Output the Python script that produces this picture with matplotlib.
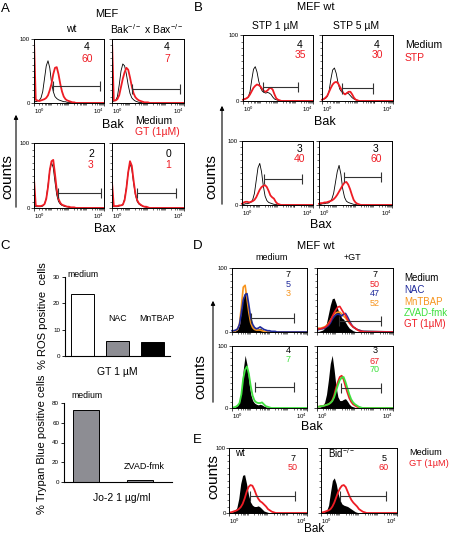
import matplotlib
matplotlib.use('Agg')
import matplotlib.pyplot as plt
import numpy as np
from matplotlib.patches import FancyArrowPatch

plt.rcParams['font.family'] = ['Liberation Sans', 'DejaVu Sans']
plt.rcParams['mathtext.fontset'] = 'custom'
plt.rcParams['mathtext.rm'] = 'Liberation Sans'
plt.rcParams['mathtext.it'] = 'Liberation Sans:italic'
plt.rcParams['mathtext.default'] = 'regular'

RED = '#ee1c24'
BLUE = '#1f2a9c'
ORANGE = '#f7941d'
GREEN = '#3ee03e'
GREY = '#8d8d93'
GATE = '#333333'

# fluorescence bins (log10 of intensity), values per bin
LOG_BINS = np.r_[np.round(np.arange(0, 2.51, 0.1), 1), 4.0]

# ---- A: MEF wt / Bak-/- x Bax-/-, medium (black) vs GT (red)
A_WT_BAK_MED = [3, 2, 3, 4, 8, 18, 38, 58, 66, 55, 32, 18, 10, 7, 5, 4, 3, 2, 2, 1, 1, 1, 0, 0, 0, 0, 0]
A_WT_BAK_GT = [100, 5, 4, 3, 4, 5, 6, 8, 12, 20, 30, 45, 55, 56, 45, 30, 18, 10, 6, 4, 3, 2, 1, 1, 0, 0, 0]
A_KO_BAK_MED = [2, 3, 4, 10, 28, 50, 61, 58, 45, 28, 15, 8, 5, 3, 2, 1, 1, 0, 0, 0, 0, 0, 0, 0, 0, 0, 0]
A_KO_BAK_GT = [100, 4, 4, 6, 12, 25, 38, 48, 55, 52, 40, 26, 15, 9, 6, 4, 3, 2, 1, 1, 1, 0, 0, 0, 0, 0, 0]
A_WT_BAX_MED = [2, 2, 2, 2, 2, 3, 6, 15, 35, 58, 70, 62, 40, 20, 10, 6, 4, 3, 2, 2, 1, 0, 0, 0, 0, 0, 0]
A_WT_BAX_GT = [45, 4, 3, 3, 3, 4, 6, 14, 32, 58, 72, 74, 52, 28, 14, 8, 5, 4, 3, 2, 2, 1, 1, 1, 0, 0, 0]
A_KO_BAX_MED = [2, 2, 2, 2, 3, 4, 5, 14, 32, 55, 68, 60, 38, 20, 10, 6, 4, 3, 2, 1, 1, 0, 0, 0, 0, 0, 0]
A_KO_BAX_GT = [40, 3, 3, 3, 4, 4, 5, 12, 30, 55, 72, 65, 42, 22, 12, 7, 5, 3, 2, 2, 1, 0, 0, 0, 0, 0, 0]
A_GATES = [(1.09, 3.77, 27), (1.10, 3.78, 22), (1.37, 3.83, 23), (1.37, 3.55, 23)]
A_NUMS = [('4', '60'), ('4', '7'), ('2', '3'), ('0', '1')]

# ---- B: MEF wt, medium (black) vs STP (red)
B_STP1_BAK_MED = [2, 3, 4, 6, 14, 32, 48, 52, 44, 30, 20, 15, 13, 12, 13, 12, 10, 6, 3, 2, 1, 0, 0, 0, 0, 0, 0]
B_STP1_BAK_STP = [2, 3, 4, 6, 10, 15, 20, 23, 25, 24, 22, 18, 15, 14, 16, 19, 20, 17, 10, 4, 2, 1, 0, 0, 0, 0, 0]
B_STP5_BAK_MED = [2, 3, 4, 7, 15, 33, 47, 50, 42, 28, 18, 14, 12, 11, 12, 11, 8, 5, 3, 2, 1, 0, 0, 0, 0, 0, 0]
B_STP5_BAK_STP = [2, 3, 5, 8, 14, 20, 25, 28, 29, 27, 22, 17, 12, 10, 12, 14, 14, 10, 5, 2, 1, 0, 0, 0, 0, 0, 0]
B_STP1_BAX_MED = [1, 1, 2, 2, 3, 4, 8, 18, 38, 58, 65, 52, 30, 14, 7, 4, 3, 2, 1, 1, 0, 0, 0, 0, 0, 0, 0]
B_STP1_BAX_STP = [2, 4, 5, 5, 4, 5, 6, 8, 12, 18, 24, 28, 30, 31, 28, 22, 15, 12, 10, 5, 2, 1, 0, 0, 0, 0, 0]
B_STP5_BAX_MED = [1, 1, 2, 2, 3, 3, 5, 9, 18, 35, 52, 62, 48, 25, 12, 6, 4, 3, 2, 1, 1, 0, 0, 0, 0, 0, 0]
B_STP5_BAX_STP = [2, 3, 3, 4, 4, 5, 6, 7, 9, 12, 16, 21, 26, 31, 35, 36, 32, 25, 16, 8, 4, 2, 1, 0, 0, 0, 0]
B_GATES = [(1.15, 3.12, 21), (1.15, 2.90, 19), (1.26, 3.40, 41), (1.39, 3.38, 44)]
B_NUMS = [('4', '35'), ('4', '30'), ('3', '40'), ('3', '60')]

# ---- C: bar charts
ROS_LABELS = ['medium', 'NAC', 'MnTBAP']
ROS_VALUES = [23.5, 5.8, 5.5]
TRYPAN_LABELS = ['medium', 'ZVAD-fmk']
TRYPAN_VALUES = [73, 2.5]

# ---- D: MEF wt, medium / +GT
D_MED_TOP_FILL = [1, 1, 2, 4, 12, 35, 55, 63, 50, 30, 15, 8, 5, 4, 5, 6, 4, 2, 1, 1, 0, 0, 0, 0, 0, 0, 0]
D_MED_TOP_NAC = [2, 2, 3, 5, 12, 30, 50, 58, 60, 42, 22, 12, 7, 5, 6, 8, 6, 4, 3, 2, 2, 1, 1, 1, 0, 0, 0]
D_MED_TOP_MN = [1, 1, 2, 4, 13, 40, 70, 73, 52, 30, 14, 7, 4, 3, 3, 3, 2, 1, 0, 0, 0, 0, 0, 0, 0, 0, 0]
D_GT_TOP_FILL = [1, 1, 2, 3, 6, 14, 28, 42, 52, 53, 45, 35, 28, 22, 20, 15, 10, 6, 4, 2, 1, 0, 0, 0, 0, 0, 0]
D_GT_TOP_GT = [4, 5, 5, 6, 7, 9, 12, 17, 24, 30, 35, 39, 40, 35, 30, 26, 20, 15, 11, 8, 6, 4, 2, 1, 1, 0, 0]
D_GT_TOP_NAC = [3, 4, 5, 5, 6, 8, 10, 14, 20, 24, 27, 28, 27, 25, 28, 29, 24, 18, 12, 8, 6, 4, 3, 2, 1, 1, 0]
D_GT_TOP_MN = [6, 6, 6, 7, 8, 10, 13, 18, 23, 27, 30, 31, 31, 28, 25, 22, 18, 14, 11, 8, 6, 4, 3, 2, 1, 1, 0]
D_MED_BOT_FILL = [1, 1, 2, 4, 10, 30, 62, 85, 70, 42, 22, 12, 8, 6, 5, 6, 5, 3, 2, 1, 1, 0, 0, 0, 0, 0, 0]
D_MED_BOT_ZVAD = [1, 1, 2, 4, 8, 22, 48, 62, 67, 55, 35, 20, 12, 9, 8, 8, 9, 6, 3, 2, 1, 0, 0, 0, 0, 0, 0]
D_GT_BOT_FILL = [1, 1, 2, 4, 9, 22, 45, 72, 85, 62, 35, 18, 12, 12, 14, 15, 11, 6, 3, 2, 1, 0, 0, 0, 0, 0, 0]
D_GT_BOT_GT = [2, 2, 3, 3, 4, 5, 6, 8, 12, 20, 32, 42, 50, 52, 46, 35, 25, 16, 10, 6, 4, 2, 1, 0, 0, 0, 0]
D_GT_BOT_ZVAD = [2, 2, 3, 3, 4, 5, 6, 8, 11, 17, 27, 37, 45, 49, 50, 42, 32, 22, 14, 9, 6, 4, 2, 1, 0, 0, 0]
D_GATES = [(1.01, 3.33, 22), (1.16, 3.37, 17), (1.23, 3.33, 34), (1.26, 3.37, 32)]

# ---- E: wt / Bid-/-
E_WT_FILL = [1, 1, 2, 3, 8, 22, 45, 58, 59, 45, 28, 17, 12, 10, 10, 11, 9, 6, 3, 2, 1, 0, 0, 0, 0, 0, 0]
E_WT_GT = [1, 1, 2, 3, 4, 6, 9, 14, 22, 32, 40, 43, 42, 36, 28, 22, 18, 16, 13, 10, 6, 4, 2, 1, 0, 0, 0]
E_BID_FILL = [1, 1, 2, 4, 12, 32, 50, 54, 45, 30, 20, 14, 12, 11, 10, 8, 6, 4, 2, 1, 0, 0, 0, 0, 0, 0, 0]
E_BID_GT = [1, 1, 2, 3, 4, 6, 10, 16, 24, 32, 38, 42, 43, 40, 33, 26, 20, 16, 13, 10, 6, 4, 2, 1, 0, 0, 0]
E_GATES = [(1.08, 3.38, 26), (1.00, 3.42, 26)]
E_NUMS = [('7', '50'), ('5', '60')]

W, H = 450, 535
fig = plt.figure(figsize=(W / 100, H / 100), dpi=100)


def box(l, t, r, b):
    return [l / W, 1 - b / H, (r - l) / W, (b - t) / H]


def txt(x, y, s, size=7.5, color='black', ha='center', va='center', **kw):
    fig.text(x / W, 1 - y / H, s, fontsize=size, color=color, ha=ha, va=va, **kw)


def counts(x, y, arrow=None):
    txt(x, y, 'counts', size=11, rotation=90)
    if arrow:
        ax_, y0, y1 = arrow
        fig.add_artist(FancyArrowPatch((ax_ / W, 1 - y0 / H), (ax_ / W, 1 - y1 / H),
                                       transform=fig.transFigure, arrowstyle='-|>',
                                       mutation_scale=6, lw=0.8, color='black'))


minor_x = np.log10(np.outer([1, 10, 100, 1000], np.arange(2, 10)).ravel())


def flow_ax(rect, xlab=True, ylab=True, pad=0.8):
    ax = fig.add_axes(box(*rect))
    ax.set_xlim(0, 4)
    ax.set_ylim(0, 100)
    ax.set_xticks([0, 4])
    ax.set_xticklabels(['$10^0$', '$10^4$'] if xlab else [])
    if xlab:
        lbls = ax.get_xticklabels()
        lbls[0].set_ha('left')
        lbls[1].set_ha('right')
    ax.set_xticks(minor_x, minor=True)
    ax.set_yticks([0, 100])
    ax.set_yticklabels(['0', '100'] if ylab else [])
    ax.set_yticks(np.arange(0, 101, 10), minor=True)
    ax.tick_params(which='both', direction='out', length=2, width=0.5, labelsize=4.3, pad=pad)
    ax.tick_params(which='minor', length=1.2, width=0.4)
    for s in ax.spines.values():
        s.set_linewidth(0.7)
    return ax


def gate(ax, g):
    x1, x2, y = g
    ax.hlines(y, x1, x2, color=GATE, lw=0.8)
    ax.vlines([x1, x2], y - 8, y + 8, color=GATE, lw=0.8)


# ================= A =================
txt(5, 9, 'A', size=9.5)
txt(107, 14, 'MEF', size=8)
txt(71, 29, 'wt', size=7.5)
txt(147, 29, r'Bak$^{-/-}$ x Bax$^{-/-}$', size=7.5)
a_boxes = [(34, 39, 104, 103), (112, 39, 184, 103), (34, 143, 104, 208), (112, 143, 184, 208)]
a_curves = [(A_WT_BAK_MED, A_WT_BAK_GT), (A_KO_BAK_MED, A_KO_BAK_GT),
            (A_WT_BAX_MED, A_WT_BAX_GT), (A_KO_BAX_MED, A_KO_BAX_GT)]
a_numpos = [(87, 47.5), (167, 47.5), (91, 154), (168, 154)]
for i, (rect, (med, trt)) in enumerate(zip(a_boxes, a_curves)):
    ax = flow_ax(rect, ylab=(i % 2 == 0))
    ax.plot(LOG_BINS, med, color='black', lw=0.6)
    ax.plot(LOG_BINS, trt, color=RED, lw=1.3)
    gate(ax, A_GATES[i])
    x, y = a_numpos[i]
    txt(x, y, A_NUMS[i][0], size=7.5)
    txt(x, y + 11, A_NUMS[i][1], size=7.5, color=RED)
txt(113, 125, 'Bak', size=9)
txt(135, 120.5, 'Medium', size=7.5, ha='left')
txt(135, 132, 'GT (1µM)', size=7.5, ha='left', color=RED)
txt(105, 229, 'Bax', size=9)
counts(7, 177, (16, 210, 112))

# ================= B =================
txt(198, 8, 'B', size=9.5)
txt(316, 7, 'MEF wt', size=8)
txt(275, 26, 'STP 1 µM', size=7.5)
txt(356, 26, 'STP 5 µM', size=7.5)
b_boxes = [(243, 35, 313, 101), (322, 35, 393, 101), (242, 141, 313, 205), (319, 141, 392, 205)]
b_curves = [(B_STP1_BAK_MED, B_STP1_BAK_STP), (B_STP5_BAK_MED, B_STP5_BAK_STP),
            (B_STP1_BAX_MED, B_STP1_BAX_STP), (B_STP5_BAX_MED, B_STP5_BAX_STP)]
b_numpos = [(300, 45), (377, 45), (300, 148.5), (376, 148.5)]
for i, (rect, (med, trt)) in enumerate(zip(b_boxes, b_curves)):
    ax = flow_ax(rect, ylab=(i % 2 == 0))
    ax.plot(LOG_BINS, med, color='black', lw=0.6)
    ax.plot(LOG_BINS, trt, color=RED, lw=1.3, clip_on=False)
    gate(ax, B_GATES[i])
    x, y = b_numpos[i]
    txt(x, y, B_NUMS[i][0], size=7.5)
    txt(x, y + 10, B_NUMS[i][1], size=7.5, color=RED)
txt(405, 45, 'Medium', size=7.5, ha='left')
txt(405, 58, 'STP', size=7.5, ha='left', color=RED)
txt(325, 122, 'Bak', size=9)
txt(321, 225, 'Bax', size=9)
counts(211, 177, (222, 207, 103))

# ================= C =================
txt(5, 246, 'C', size=9.5)


def bar_ax(rect, ylim, yticks):
    ax = fig.add_axes(box(*rect))
    ax.set_ylim(*ylim)
    ax.set_yticks(yticks)
    ax.set_xticks([])
    ax.spines['top'].set_visible(False)
    ax.spines['right'].set_visible(False)
    for s in ('left', 'bottom'):
        ax.spines[s].set_linewidth(0.8)
    ax.tick_params(direction='out', length=2.5, width=0.6, labelsize=4.5, pad=1)
    return ax


ax = bar_ax((65, 277, 170, 356), (0, 30), [0, 10, 20, 30])
ax.set_xlim(-0.5, 2.5)
ax.bar(range(len(ROS_VALUES)), ROS_VALUES, width=0.66,
       color=['white', GREY, 'black'], edgecolor='black', lw=0.7)
ax.text(0, 30.8, ROS_LABELS[0], fontsize=6.3, ha='center', va='center', clip_on=False)
ax.text(1, 14.4, ROS_LABELS[1], fontsize=6.3, ha='center', va='center')
ax.text(2.13, 14.4, ROS_LABELS[2], fontsize=6.3, ha='center', va='center')
txt(117, 372, 'GT 1 µM', size=7.5)
txt(43, 316, '% ROS positive  cells', size=8, rotation=90)

ax = bar_ax((64, 403, 172, 482), (0, 80), [0, 20, 40, 60, 80])
ax.set_xlim(-0.4, 1.6)
ax.bar(range(len(TRYPAN_VALUES)), TRYPAN_VALUES, width=0.48,
       color=GREY, edgecolor='black', lw=0.7)
ax.text(0.03, 88, TRYPAN_LABELS[0], fontsize=6.3, ha='center', va='center', clip_on=False)
ax.text(1.08, 15.2, TRYPAN_LABELS[1], fontsize=6.5, ha='center', va='center')
txt(122, 498, 'Jo-2 1 µg/ml', size=7.5)
txt(42, 444, '% Trypan Blue positive cells', size=8, rotation=90)

# ================= D =================
txt(198, 246, 'D', size=9.5)
txt(316, 246, 'MEF wt', size=8)
txt(272, 258, 'medium', size=6.5)
txt(352, 258, '+GT', size=6.5)
d_boxes = [(232, 268, 307, 332), (317, 268, 393, 332), (232, 346, 307, 408), (317, 346, 393, 408)]

ax = flow_ax(d_boxes[0], xlab=False)
ax.fill_between(LOG_BINS, D_MED_TOP_FILL, color='black', lw=0)
ax.plot(LOG_BINS, D_MED_TOP_MN, color=ORANGE, lw=1.2)
ax.plot(LOG_BINS, D_MED_TOP_NAC, color=BLUE, lw=1.2, clip_on=False)
gate(ax, D_GATES[0])

ax = flow_ax(d_boxes[1], xlab=False, ylab=False)
ax.fill_between(LOG_BINS, D_GT_TOP_FILL, color='black', lw=0)
ax.plot(LOG_BINS, D_GT_TOP_MN, color=ORANGE, lw=1.2)
ax.plot(LOG_BINS, D_GT_TOP_NAC, color=BLUE, lw=1.2)
ax.plot(LOG_BINS, D_GT_TOP_GT, color=RED, lw=1.2)
gate(ax, D_GATES[1])

ax = flow_ax(d_boxes[2])
ax.fill_between(LOG_BINS, D_MED_BOT_FILL, color='black', lw=0)
ax.plot(LOG_BINS, D_MED_BOT_ZVAD, color=GREEN, lw=1.3)
gate(ax, D_GATES[2])

ax = flow_ax(d_boxes[3], ylab=False)
ax.fill_between(LOG_BINS, D_GT_BOT_FILL, color='black', lw=0)
ax.plot(LOG_BINS, D_GT_BOT_GT, color=RED, lw=1.3)
ax.plot(LOG_BINS, D_GT_BOT_ZVAD, color=GREEN, lw=1.3)
gate(ax, D_GATES[3])

for s, y, c in [('7', 274.5, 'black'), ('5', 284.5, BLUE), ('3', 294, ORANGE)]:
    txt(288, y, s, size=6.5, color=c)
for s, y, c in [('7', 274.5, 'black'), ('50', 284.5, RED), ('47', 294, BLUE), ('52', 304, ORANGE)]:
    txt(375, y, s, size=6.5, color=c)
for s, y, c in [('4', 350.5, 'black'), ('7', 359, GREEN)]:
    txt(288, y, s, size=6.5, color=c)
for s, y, c in [('3', 350.5, 'black'), ('67', 361, RED), ('70', 370, GREEN)]:
    txt(375, y, s, size=6.5, color=c)
for s, y, c in [('Medium', 278, 'black'), ('NAC', 290, BLUE), ('MnTBAP', 302, ORANGE),
                ('ZVAD-fmk', 313, GREEN), ('GT (1µM)', 324, RED)]:
    txt(404, y, s, size=7, color=c, ha='left')
txt(312, 427, 'Bak', size=9)
counts(200, 377, (213, 405, 298))

# ================= E =================
txt(197, 440, 'E', size=9.5)
e_boxes = [(229, 448, 307, 513), (321, 448, 397, 513)]
e_curves = [(E_WT_FILL, E_WT_GT), (E_BID_FILL, E_BID_GT)]
e_numpos = [(293, 458.5), (384, 458.5)]
for i, (rect, (med, trt)) in enumerate(zip(e_boxes, e_curves)):
    ax = flow_ax(rect, ylab=(i == 0), pad=0.4)
    ax.fill_between(LOG_BINS, med, color='black', lw=0)
    ax.plot(LOG_BINS, trt, color=RED, lw=1.3)
    gate(ax, E_GATES[i])
    x, y = e_numpos[i]
    txt(x, y, E_NUMS[i][0], size=6.5)
    txt(x, y + 9.5, E_NUMS[i][1], size=6.5, color=RED)
txt(235, 453.5, 'wt', size=7, ha='left')
txt(328, 453.5, r'Bid$^{-/-}$', size=7, ha='left')
txt(409, 452.5, 'Medium', size=6.7, ha='left')
txt(409, 463.5, 'GT (1µM)', size=6.7, ha='left', color=RED)
txt(314, 534.5, 'Bak', size=8.5, va='bottom')
counts(213, 477)

fig.savefig('out.png', dpi=100)
